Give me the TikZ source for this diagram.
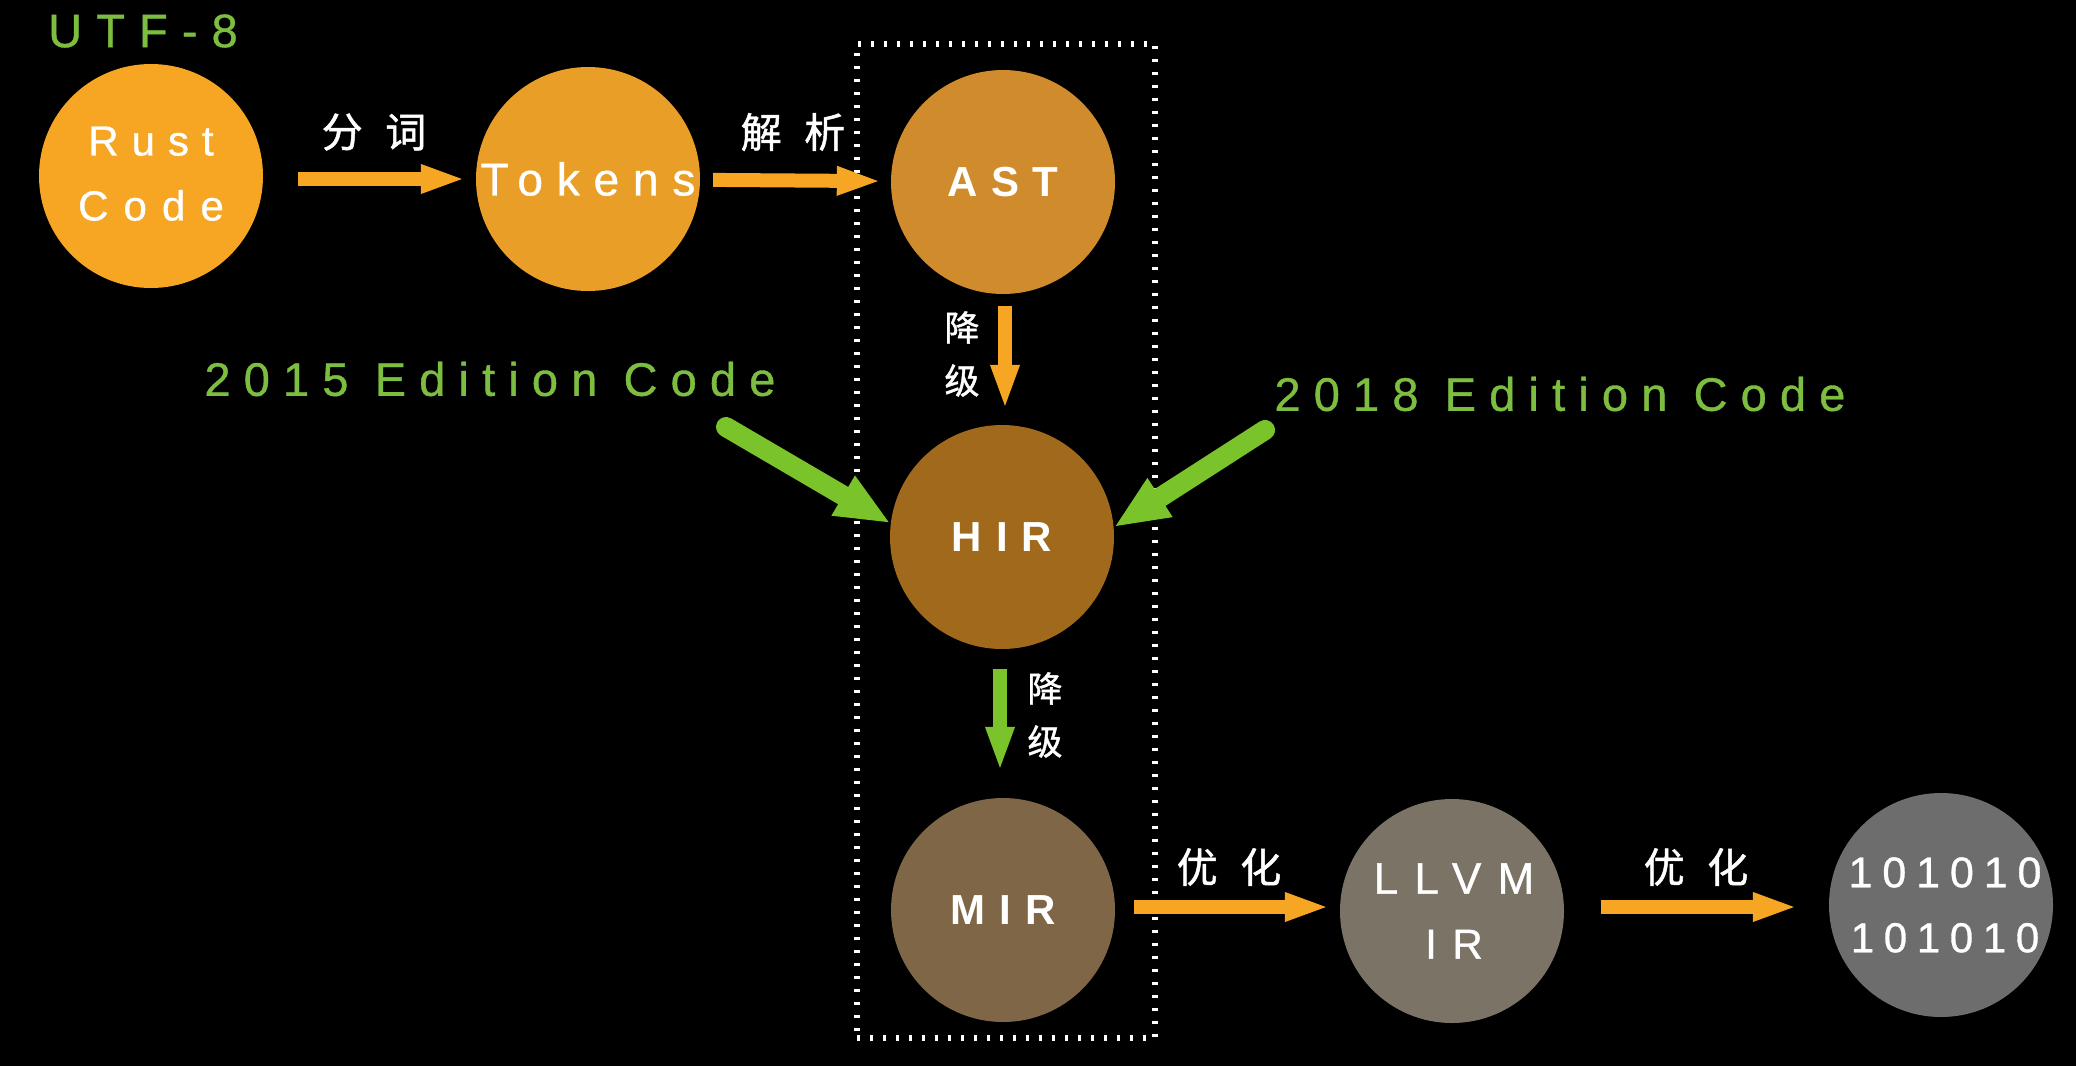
\documentclass[tikz,border=0pt]{standalone}
\usepackage{fontspec}
\setmainfont{Liberation Sans}
\newfontfamily\cjk[FakeBold=1.2]{Noto Sans CJK SC}
\newfontfamily\semi[FakeBold=0.8]{Liberation Sans}
\usetikzlibrary{arrows.meta}
\definecolor{cRust}{RGB}{246,166,35}
\definecolor{cTok}{RGB}{233,159,39}
\definecolor{cAST}{RGB}{207,139,44}
\definecolor{cHIR}{RGB}{160,105,28}
\definecolor{cMIR}{RGB}{126,102,70}
\definecolor{cLLVM}{RGB}{123,115,102}
\definecolor{cBin}{RGB}{109,109,109}
\definecolor{oArr}{RGB}{246,166,35}
\definecolor{gArr}{RGB}{122,195,42}
\definecolor{gTxt}{RGB}{125,190,65}
\newcommand\trk[2]{{\addfontfeature{LetterSpace=#1}#2}}
\tikzset{
  stage/.style={circle, minimum size=224pt, inner sep=0pt, text=white, align=center},
  ntext/.style={font=\semi\fontsize{42}{65}\selectfont},
  btext/.style={font=\fontsize{42}{65}\selectfont\bfseries},
  oarrow/.style={draw=oArr, line width=14pt, -{Triangle[length=45pt,width=26pt]}},
  garrow/.style={draw=gArr, line width=14pt, -{Triangle[length=45pt,width=26pt]}},
  gdiag/.style={draw=gArr, line width=20pt, line cap=round, -{Triangle[length=55pt,width=42pt]}},
  cjklab/.style={text=white, font=\cjk\fontsize{41}{48}\selectfont},
  vlab/.style={text=white, font=\cjk\fontsize{35}{53}\selectfont, align=center},
  glab/.style={text=gTxt, font=\semi\fontsize{47}{56}\selectfont},
}
\begin{document}
\begin{tikzpicture}[x=1pt,y=-1pt]
\fill[black] (0,0) rectangle (2076,1066);
\useasboundingbox (0,0) rectangle (2076,1066);

\node[draw=white, line width=6pt, dash pattern=on 3pt off 10pt, minimum width=298pt, minimum height=994pt, inner sep=0pt] (box) at (1006,541) {};

\node[stage, fill=cRust, ntext] (rust) at (151,176) {\raisebox{5pt}{\trk{31}{Rust}}\\\raisebox{5pt}{\trk{36}{Code}}};
\node[stage, fill=cTok, ntext] (tok) at (588,179) {\fontsize{46}{55}\selectfont\trk{30}{Tokens}};
\node[stage, fill=cAST, btext] (ast) at (1003,182) {\trk{31}{AST}};
\node[stage, fill=cHIR, btext] (hir) at (1002,537) {\trk{33}{HIR}};
\node[stage, fill=cMIR, btext] (mir) at (1003,910) {\trk{33}{MIR}};
\node[stage, fill=cLLVM, ntext] (llvm) at (1452,911) {\fontsize{44}{65}\selectfont\kern4pt\trk{37}{LLVM}\\\kern4pt\trk{37}{IR}};
\node[stage, fill=cBin, ntext] (bin) at (1941,905) {\fontsize{43}{65}\selectfont\kern8pt\trk{23}{101010}\\\kern8pt\trk{23}{101010}};

\node[glab] (utf) at (143,31) {\trk{30}{UTF-8}};
\node[glab] (e15) at (490,379) {\trk{28}{2015 Edition Code}};
\node[glab] (e18) at (1560,394) {\trk{28}{2018 Edition Code}};

\node[cjklab] (l1) at (374,132) {\trk{55}{分词}};
\node[cjklab] (l2) at (793,132) {\trk{55}{解析}};
\node[cjklab] (l3) at (1229,867) {\trk{55}{优化}};
\node[cjklab] (l4) at (1696,867) {\trk{55}{优化}};
\node[vlab] (l5) at (962,354) {降\\级};
\node[vlab] (l6) at (1045,715) {降\\级};

\draw[oarrow, shorten <=35pt, shorten >=10pt] (rust.east |- 0,179) -- (tok.west);
\draw[oarrow, shorten <=13pt, shorten >=9pt] (tok) -- (ast);
\draw[oarrow, shorten <=12pt, shorten >=15pt] ([xshift=2pt]ast.south) -- ([xshift=3pt]hir.north);
\draw[garrow, shorten <=20pt, shorten >=26pt] ([xshift=-2pt]hir.south) -- ([xshift=-3pt]mir.north);
\draw[oarrow, shorten <=19pt, shorten >=10pt] (mir.east |- 0,907) -- (llvm.west |- 0,907);
\draw[oarrow, shorten <=37pt, shorten >=31pt] (llvm.east |- 0,907) -- (bin.west |- 0,907);

\coordinate (t15) at (726,427);
\coordinate (t18) at (1265,430);
\draw[gdiag] (t15) -- (hir.173);
\draw[gdiag] (t18) -- (hir.5);
\end{tikzpicture}
\end{document}
